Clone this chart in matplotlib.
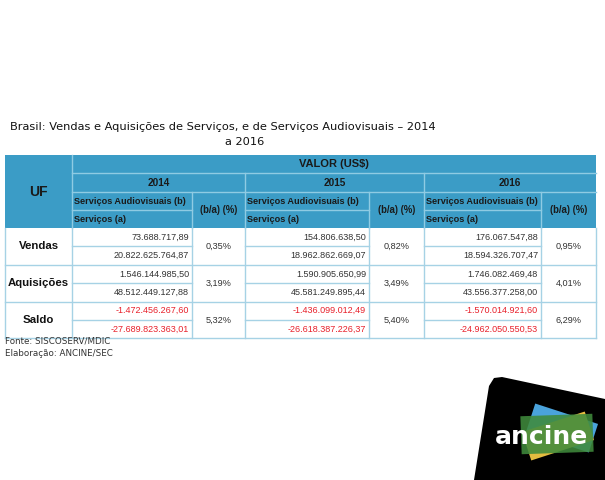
import numpy as np
import matplotlib.pyplot as plt
from matplotlib.patches import Rectangle, Polygon

# table data
categories = ['Vendas', 'Aquisições', 'Saldo']
years = ['2014', '2015', '2016']
audiovisual = [[73688717.89, 154806638.50, 176067547.88],
               [1546144985.50, 1590905650.99, 1746082469.48],
               [-1472456267.60, -1436099012.49, -1570014921.60]]
servicos = [[20822625764.87, 18962862669.07, 18594326707.47],
            [48512449127.88, 45581249895.44, 43556377258.00],
            [-27689823363.01, -26618387226.37, -24962050550.53]]
ratio = [[0.35, 0.82, 0.95],
         [3.19, 3.49, 4.01],
         [5.32, 5.40, 6.29]]

HEAD = '#3b9cc6'
HLINE = '#8fcbe3'
DLINE = '#a6d2e5'
FONT = 'Liberation Sans'


def br(v):
    s = f'{v:,.2f}'
    return s.replace(',', '#').replace('.', ',').replace('#', '.')


fig = plt.figure(figsize=(6.05, 4.8), dpi=100)
ax = fig.add_axes([0, 0, 1, 1])
ax.set_xlim(0, 605)
ax.set_ylim(480, 0)
ax.axis('off')

# column and row edges (pixels)
x_uf = (5, 72)
x_cols = [(72, 192, 245), (245, 369, 424), (424, 541, 596)]
y_hdr = [155, 173, 192, 210, 228]
row_h = 18.4

ax.text(10, 127, 'Brasil: Vendas e Aquisições de Serviços, e de Serviços Audiovisuais – 2014',
        fontsize=8.2, family='DejaVu Sans', va='center', ha='left', color='#111111')
ax.text(245, 142, 'a 2016', fontsize=8.2, family='DejaVu Sans', va='center', ha='center',
        color='#111111')

# header block
ax.add_patch(Rectangle((x_uf[0], y_hdr[0]), 596 - x_uf[0], y_hdr[-1] - y_hdr[0],
                       facecolor=HEAD, edgecolor='none'))
ax.plot([x_uf[1], x_uf[1]], [y_hdr[0], y_hdr[-1]], color=HLINE, lw=1)
ax.plot([x_uf[1], 596], [y_hdr[1]] * 2, color=HLINE, lw=1)
for i, (a, b, c) in enumerate(x_cols):
    ax.plot([a, c], [y_hdr[2]] * 2, color=HLINE, lw=1)
    ax.plot([a, b], [y_hdr[3]] * 2, color=HLINE, lw=1)
    ax.plot([b, b], [y_hdr[2], y_hdr[4]], color=HLINE, lw=1)
    if i > 0:
        ax.plot([a, a], [y_hdr[1], y_hdr[4]], color=HLINE, lw=1)
    ax.text((a + c) / 2, (y_hdr[1] + y_hdr[2]) / 2, years[i], fontsize=7.2, weight='bold',
            family=FONT, ha='center', va='center', color='#1a1a1a')
    ax.text(a + 2, (y_hdr[2] + y_hdr[3]) / 2, 'Serviços Audiovisuais (b)', fontsize=6.6,
            weight='bold', family=FONT, ha='left', va='center', color='#1a1a1a')
    ax.text(a + 2, (y_hdr[3] + y_hdr[4]) / 2, 'Serviços (a)', fontsize=6.6,
            weight='bold', family=FONT, ha='left', va='center', color='#1a1a1a')
    ax.text((b + c) / 2, (y_hdr[2] + y_hdr[4]) / 2, '(b/a) (%)', fontsize=6.9,
            weight='bold', family=FONT, ha='center', va='center', color='#1a1a1a')
ax.text((x_uf[0] + x_uf[1]) / 2, (y_hdr[0] + y_hdr[-1]) / 2, 'UF', fontsize=10,
        weight='bold', family=FONT, ha='center', va='center', color='#1a1a1a')
ax.text((x_uf[1] + 596) / 2, (y_hdr[0] + y_hdr[1]) / 2, 'VALOR (US$)', fontsize=8,
        weight='bold', family=FONT, ha='center', va='center', color='#1a1a1a')

# body
y0 = y_hdr[-1]
y_end = y0 + 6 * row_h
for r, cat in enumerate(categories):
    top = y0 + 2 * r * row_h
    mid = top + row_h
    bot = top + 2 * row_h
    color = '#e8202a' if cat == 'Saldo' else '#333333'
    ax.text((x_uf[0] + x_uf[1]) / 2, mid, cat, fontsize=8.2, weight='bold',
            family=FONT, ha='center', va='center', color='#111111')
    ax.plot([x_uf[0], 596], [bot, bot], color=DLINE, lw=1)
    for i, (a, b, c) in enumerate(x_cols):
        ax.plot([a, b], [mid, mid], color=DLINE, lw=1)
        ax.text(b - 3, top + row_h / 2, br(audiovisual[r][i]), fontsize=6.5,
                family=FONT, ha='right', va='center', color=color)
        ax.text(b - 3, mid + row_h / 2, br(servicos[r][i]), fontsize=6.5,
                family=FONT, ha='right', va='center', color=color)
        ax.text((b + c) / 2, mid, f'{ratio[r][i]:.2f}%'.replace('.', ','), fontsize=6.6,
                family=FONT, ha='center', va='center', color='#333333')
for x in [x_uf[0], x_uf[1]] + [v for t in x_cols for v in t[1:]]:
    ax.plot([x, x], [y0, y_end], color=DLINE, lw=1)

ax.text(5, 341, 'Fonte: SISCOSERV/MDIC', fontsize=6.3, family='DejaVu Sans',
        ha='left', va='center', color='#333333')
ax.text(5, 353, 'Elaboração: ANCINE/SEC', fontsize=6.3, family='DejaVu Sans',
        ha='left', va='center', color='#333333')

# logo
ax.add_patch(Polygon([(474, 480), (489, 386), (494, 378), (502, 377), (605, 399), (605, 480)],
                     closed=True, facecolor='black', edgecolor='none'))


def card(cx, cy, w, h, deg, **kw):
    t = np.deg2rad(deg)
    pts = np.array([[-w / 2, -h / 2], [w / 2, -h / 2], [w / 2, h / 2], [-w / 2, h / 2]])
    rot = np.array([[np.cos(t), -np.sin(t)], [np.sin(t), np.cos(t)]])
    pts = pts @ rot.T + [cx, cy]
    ax.add_patch(Polygon(pts, closed=True, **kw))


card(562, 428, 66, 30, 18, facecolor='#4aa3dc', edgecolor='none')
card(558, 436, 66, 30, -18, facecolor='#f2c744', edgecolor='none', alpha=0.95)
card(557, 434, 72, 38, -2, facecolor='#3f8a3c', edgecolor='none', alpha=0.88)
ax.text(541, 437, 'ancine', fontsize=18, weight='bold', family='DejaVu Sans',
        color='white', ha='center', va='center')

fig.savefig('out.png', dpi=100)
